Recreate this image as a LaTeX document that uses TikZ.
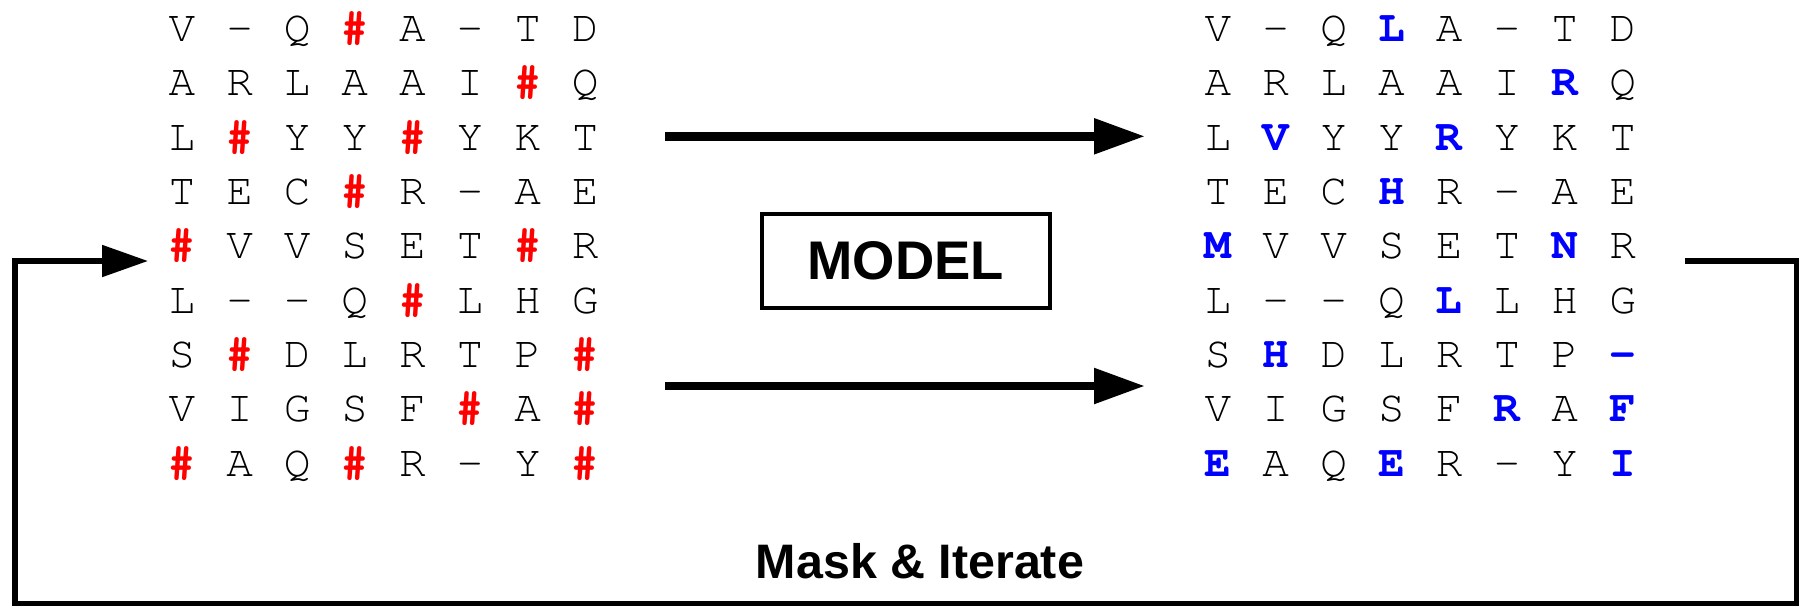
\documentclass[tikz,border=0pt]{standalone}
\usepackage[T1]{fontenc}
\usepackage{fontspec}
\usetikzlibrary{arrows.meta}
\newfontfamily\sansfont{Liberation Sans}
\newcommand\monofont{\fontencoding{T1}\fontfamily{pcr}\fontsize{22.2}{26}\selectfont}
\newcommand\hsh{\textcolor{red}{\bfseries\#}}
\newcommand\blu[1]{\textcolor{blue}{\bfseries #1}}
\begin{document}
\begin{tikzpicture}[x=0.5pt,y=-0.5pt,
  cell/.style={anchor=base,inner sep=0pt,font=\monofont},
  flow/.style={line width=4.25pt,-{Triangle[length=25.5pt,width=17pt]}},
  loopline/.style={line width=2.6pt,-{Triangle[length=23pt,width=15.5pt]}},
  modelbox/.style={draw,line width=2pt,minimum width=143.8pt,minimum height=47.2pt,inner sep=0pt,
    font=\sansfont\bfseries\fontsize{27.2}{30}\selectfont},
  looptext/.style={anchor=base,inner sep=0pt,font=\sansfont\bfseries\fontsize{24.2}{28}\selectfont}]
\useasboundingbox (0,0) rectangle (1800,607);

% left (masked) grid
\foreach \rowlist [count=\r from 0] in {
  {V,-,Q,\hsh,A,-,T,D},
  {A,R,L,A,A,I,\hsh,Q},
  {L,\hsh,Y,Y,\hsh,Y,K,T},
  {T,E,C,\hsh,R,-,A,E},
  {\hsh,V,V,S,E,T,\hsh,R},
  {L,-,-,Q,\hsh,L,H,G},
  {S,\hsh,D,L,R,T,P,\hsh},
  {V,I,G,S,F,\hsh,A,\hsh},
  {\hsh,A,Q,\hsh,R,-,Y,\hsh}}{
  \foreach \ch [count=\c from 0] in \rowlist {
    \node[cell] (l-\r-\c) at ({182+57.6*\c},{41.5+54.35*\r}) {\ch};
  }
}

% right (filled) grid
\foreach \rowlist [count=\r from 0] in {
  {V,-,Q,\blu{L},A,-,T,D},
  {A,R,L,A,A,I,\blu{R},Q},
  {L,\blu{V},Y,Y,\blu{R},Y,K,T},
  {T,E,C,\blu{H},R,-,A,E},
  {\blu{M},V,V,S,E,T,\blu{N},R},
  {L,-,-,Q,\blu{L},L,H,G},
  {S,\blu{H},D,L,R,T,P,\blu{-}},
  {V,I,G,S,F,\blu{R},A,\blu{F}},
  {\blu{E},A,Q,\blu{E},R,-,Y,\blu{I}}}{
  \foreach \ch [count=\c from 0] in \rowlist {
    \node[cell] (r-\r-\c) at ({1218+57.8*\c},{41.5+54.35*\r}) {\ch};
  }
}

% model box
\node[modelbox] (model) at (905.8,261) {MODEL};

% arrows through the model
\coordinate (a1s) at (665,136.3);
\coordinate (a1e) at (1145,136.3);
\coordinate (a2s) at (665,386);
\coordinate (a2e) at (1145,386);
\draw[flow] (a1s) -- (a1e);
\draw[flow] (a2s) -- (a2e);

% feedback loop
\coordinate (ls) at (1685,261);
\coordinate (c1) at (1796.5,261);
\coordinate (c2) at (1796.5,603.5);
\coordinate (c3) at (15,603.5);
\coordinate (c4) at (15,261);
\coordinate (lt) at (148,261);
\draw[loopline] (ls) -- (c1) -- (c2) -- (c3) -- (c4) -- (lt);

\node[looptext] (mask) at (920,578.5) {Mask \& Iterate};
\end{tikzpicture}
\end{document}
